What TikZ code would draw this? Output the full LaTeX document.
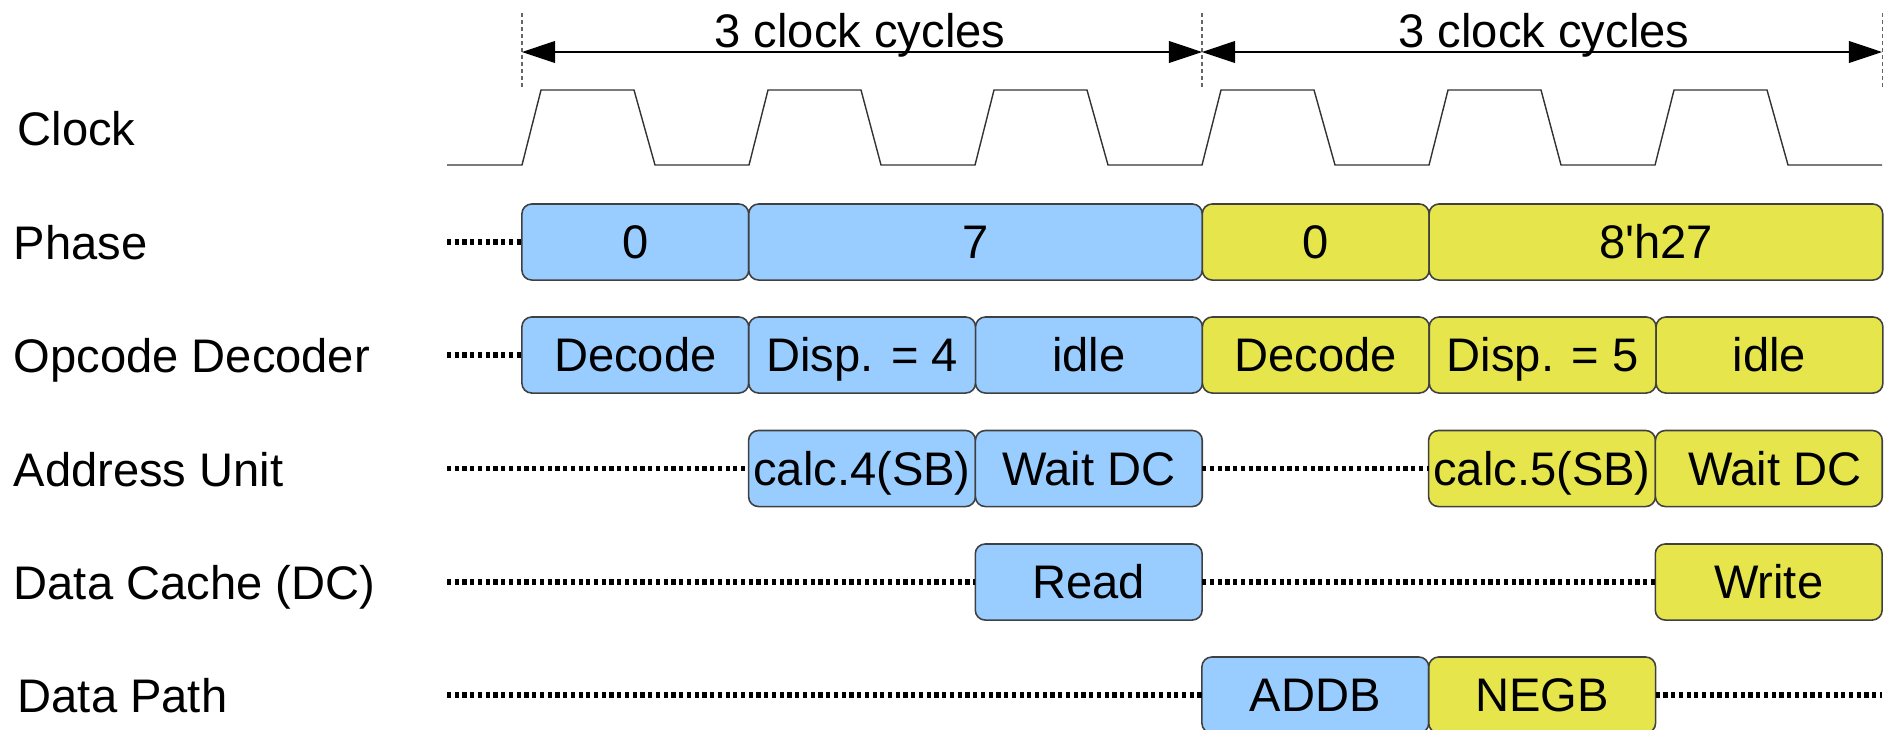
\documentclass[tikz,border=0pt]{standalone}
\usepackage{fontspec}
\setmainfont{Liberation Sans}
\usepackage{tikz}
\usetikzlibrary{arrows.meta, positioning}
\definecolor{cycblue}{HTML}{99CCFF}
\definecolor{cycyellow}{HTML}{E6E64C}

\begin{document}
\begin{tikzpicture}[x=0.01cm, y=-0.01cm,
    font=\fontsize{13.4pt}{16pt}\selectfont,
    box/.style={draw=black!75, line width=0.45pt, rounded corners=2.8pt,
      minimum height=0.76cm, minimum width=2.267cm, inner sep=0pt, outer sep=0pt,
      text height=9.6pt, text depth=0pt},
    bbox/.style={box, fill=cycblue},
    ybox/.style={box, fill=cycyellow},
    wide/.style={minimum width=4.533cm},
    idle/.style={line width=1.6pt, dash pattern=on 1.2pt off 1.0pt, black},
    rowname/.style={anchor=base west, inner sep=0pt},
    tick/.style={black!60, line width=0.3pt, dash pattern=on 1.1pt off 0.9pt},
    span/.style={{Triangle[length=9.4pt,width=6.2pt]}-{Triangle[length=9.4pt,width=6.2pt]}, line width=0.35pt}
  ]
        \useasboundingbox (0,0) rectangle (1895,729);

        % 周期标注
        \draw[tick] (522,13) -- (522,88);
        \draw[tick] (1202,13) -- (1202,88);
        \draw[tick] (1882,13) -- (1882,88);
        \coordinate (m0) at (522,52);
        \coordinate (m1) at (1202,52);
        \coordinate (m2) at (1882,52);
        \draw[span] (m0) -- (m1);
        \draw[span] (m1) -- (m2);
        \node[anchor=base] (cyc1) at (860,47) {3 clock cycles};
        \node[anchor=base] (cyc2) at (1544,47) {3 clock cycles};

        % 时钟波形
        \draw[black!80, line width=0.4pt] (447,165) -- (522,165) -- (541,90) -- (634,90) -- (655,165)
          -- (749,165) -- (768,90) -- (861,90) -- (881,165)
          -- (975,165) -- (994,90) -- (1087,90) -- (1108,165)
          -- (1202,165) -- (1221,90) -- (1314,90) -- (1335,165)
          -- (1429,165) -- (1448,90) -- (1541,90) -- (1561,165)
          -- (1655,165) -- (1674,90) -- (1767,90) -- (1788,165) -- (1882,165);

        % 行标题
        \node[rowname] (lclk) at (17,145) {Clock};
        \node[rowname] (lph) at (13,259) {Phase};
        \node[rowname] (lop) at (13,372) {Opcode Decoder};
        \node[rowname] (lau) at (13,486) {Address Unit};
        \node[rowname] (ldc) at (13,599) {Data Cache (DC)};
        \node[rowname] (ldp) at (17,712) {Data Path};

        % Phase
        \node[bbox] (ph0) at (635.3,242) {0};
        \node[bbox, wide, right=0pt of ph0] (ph7) {7};
        \node[ybox, right=0pt of ph7] (ph0b) {0};
        \node[ybox, wide, right=0pt of ph0b] (ph27) {8\textquotesingle h27};
        \coordinate (s1) at (447,242);
        \draw[idle] (s1) -- (ph0.west);

        % Opcode Decoder
        \node[bbox] (od1) at (635.3,355) {Decode};
        \node[bbox, right=0pt of od1] (od2) {Disp. = 4};
        \node[bbox, right=0pt of od2] (od3) {idle};
        \node[ybox, right=0pt of od3] (od4) {Decode};
        \node[ybox, right=0pt of od4] (od5) {Disp. = 5};
        \node[ybox, right=0pt of od5] (od6) {idle};
        \coordinate (s2) at (447,355);
        \draw[idle] (s2) -- (od1.west);

        % Address Unit
        \node[bbox] (au1) at (862,468.5) {calc.4(SB)};
        \node[bbox, right=0pt of au1] (au2) {Wait DC};
        \node[ybox] (au3) at (1542,468.5) {calc.5(SB)};
        \node[ybox, right=0pt of au3] (au4) {\hspace{0.12cm}Wait DC};
        \coordinate (s3) at (447,468.5);
        \draw[idle] (s3) -- (au1.west);
        \draw[idle] (au2.east) -- (au3.west);

        % Data Cache
        \node[bbox] (dc1) at (1088.7,582) {Read};
        \node[ybox] (dc2) at (1768.7,582) {Write};
        \coordinate (s4) at (447,582);
        \draw[idle] (s4) -- (dc1.west);
        \draw[idle] (dc1.east) -- (dc2.west);

        % Data Path
        \node[bbox] (dp1) at (1315.3,695) {ADDB\hspace{0.2cm}};
        \node[ybox, right=0pt of dp1] (dp2) {NEGB\hspace{0.2cm}};
        \coordinate (s5) at (447,695);
        \coordinate (e5) at (1882,695);
        \draw[idle] (s5) -- (dp1.west);
        \draw[idle] (dp2.east) -- (e5);
\end{tikzpicture}
\end{document}
